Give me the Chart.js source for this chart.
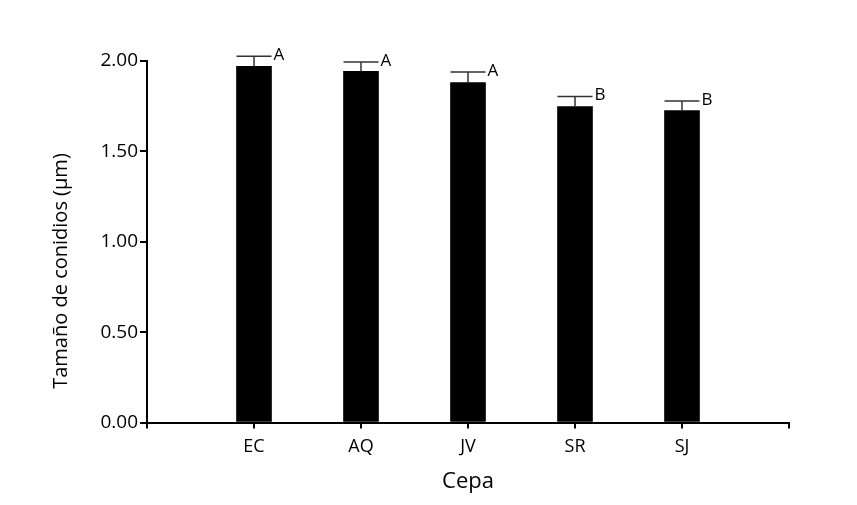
<!DOCTYPE html>
<html>
<head>
<meta charset="utf-8">
<script src="https://cdn.jsdelivr.net/npm/chart.js@4"></script>
<style>
  body { margin: 0; background: #fff; }
  canvas { display: block; }
</style>
</head>
<body>
<canvas id="grafico" width="857" height="505"></canvas>
<script>
// datos
const cepas = ["EC", "AQ", "JV", "SR", "SJ"];
const medias = [1.971, 1.943, 1.881, 1.748, 1.726];
const errores = [0.055, 0.052, 0.058, 0.055, 0.053];
const letras = ["A", "A", "A", "B", "B"];
const ticksY = [0, 0.5, 1, 1.5, 2];

const fuente = "'Open Sans', sans-serif";

// el eje x tiene un hueco vacio a cada lado
const etiquetas = ["", ...cepas, ""];
const valores = [null, ...medias, null];

const barrasError = {
  id: "barrasError",
  afterDatasetsDraw(chart) {
    const ctx = chart.ctx;
    const x = chart.scales.x;
    const y = chart.scales.y;
    const media = 35 / 2;
    ctx.save();
    for (let i = 0; i < cepas.length; i++) {
      const cx = x.getPixelForValue(i + 1);
      const yTop = y.getPixelForValue(medias[i]);
      const yCap = y.getPixelForValue(medias[i] + errores[i]);
      ctx.strokeStyle = "#333";
      ctx.lineWidth = 1.5;
      ctx.beginPath();
      ctx.moveTo(cx, yTop);
      ctx.lineTo(cx, yCap);
      ctx.moveTo(cx - media, yCap);
      ctx.lineTo(cx + media, yCap);
      ctx.stroke();
      ctx.fillStyle = "#000";
      ctx.font = "17px " + fuente;
      ctx.textAlign = "left";
      ctx.textBaseline = "middle";
      ctx.fillText(letras[i], cx + media + 2, yCap - 1);
    }
    // titulo del eje y
    ctx.translate(61, 271);
    ctx.rotate(-Math.PI / 2);
    ctx.font = "20px " + fuente;
    ctx.textAlign = "center";
    ctx.textBaseline = "middle";
    ctx.fillText("Tamaño de conidios (µm)", 0, 0);
    ctx.restore();
  }
};

new Chart(document.getElementById("grafico"), {
  type: "bar",
  data: {
    labels: etiquetas,
    datasets: [{
      data: valores,
      backgroundColor: "#000",
      borderWidth: 0,
      barThickness: 35
    }]
  },
  options: {
    responsive: false,
    animation: false,
    layout: { padding: { top: 61, right: 68, left: 0, bottom: 0 } },
    plugins: { legend: { display: false }, tooltip: { enabled: false } },
    scales: {
      x: {
        offset: false,
        afterFit: (s) => { s.height = 82.5; },
        border: { display: true, color: "#000", width: 2 },
        grid: { display: true, offset: false, drawOnChartArea: false, drawTicks: true, tickLength: 6, color: "#000", lineWidth: 2 },
        ticks: { color: "#000", font: { family: fuente, size: 18 }, padding: 8, maxRotation: 0, autoSkip: false },
        title: { display: true, text: "Cepa", color: "#000", font: { family: fuente, size: 22 }, padding: { top: 4, bottom: 10 } }
      },
      y: {
        min: 0,
        max: 2,
        afterFit: (s) => { s.width = 147; },
        afterBuildTicks: (s) => { s.ticks = ticksY.map(v => ({ value: v })); },
        border: { display: true, color: "#000", width: 2 },
        grid: { display: true, drawOnChartArea: false, drawTicks: true, tickLength: 7, color: "#000", lineWidth: 2 },
        ticks: {
          color: "#000",
          font: { family: fuente, size: 19 },
          padding: 2,
          callback: (v) => Number(v).toFixed(2)
        }
      }
    }
  },
  plugins: [barrasError]
});
</script>
</body>
</html>
